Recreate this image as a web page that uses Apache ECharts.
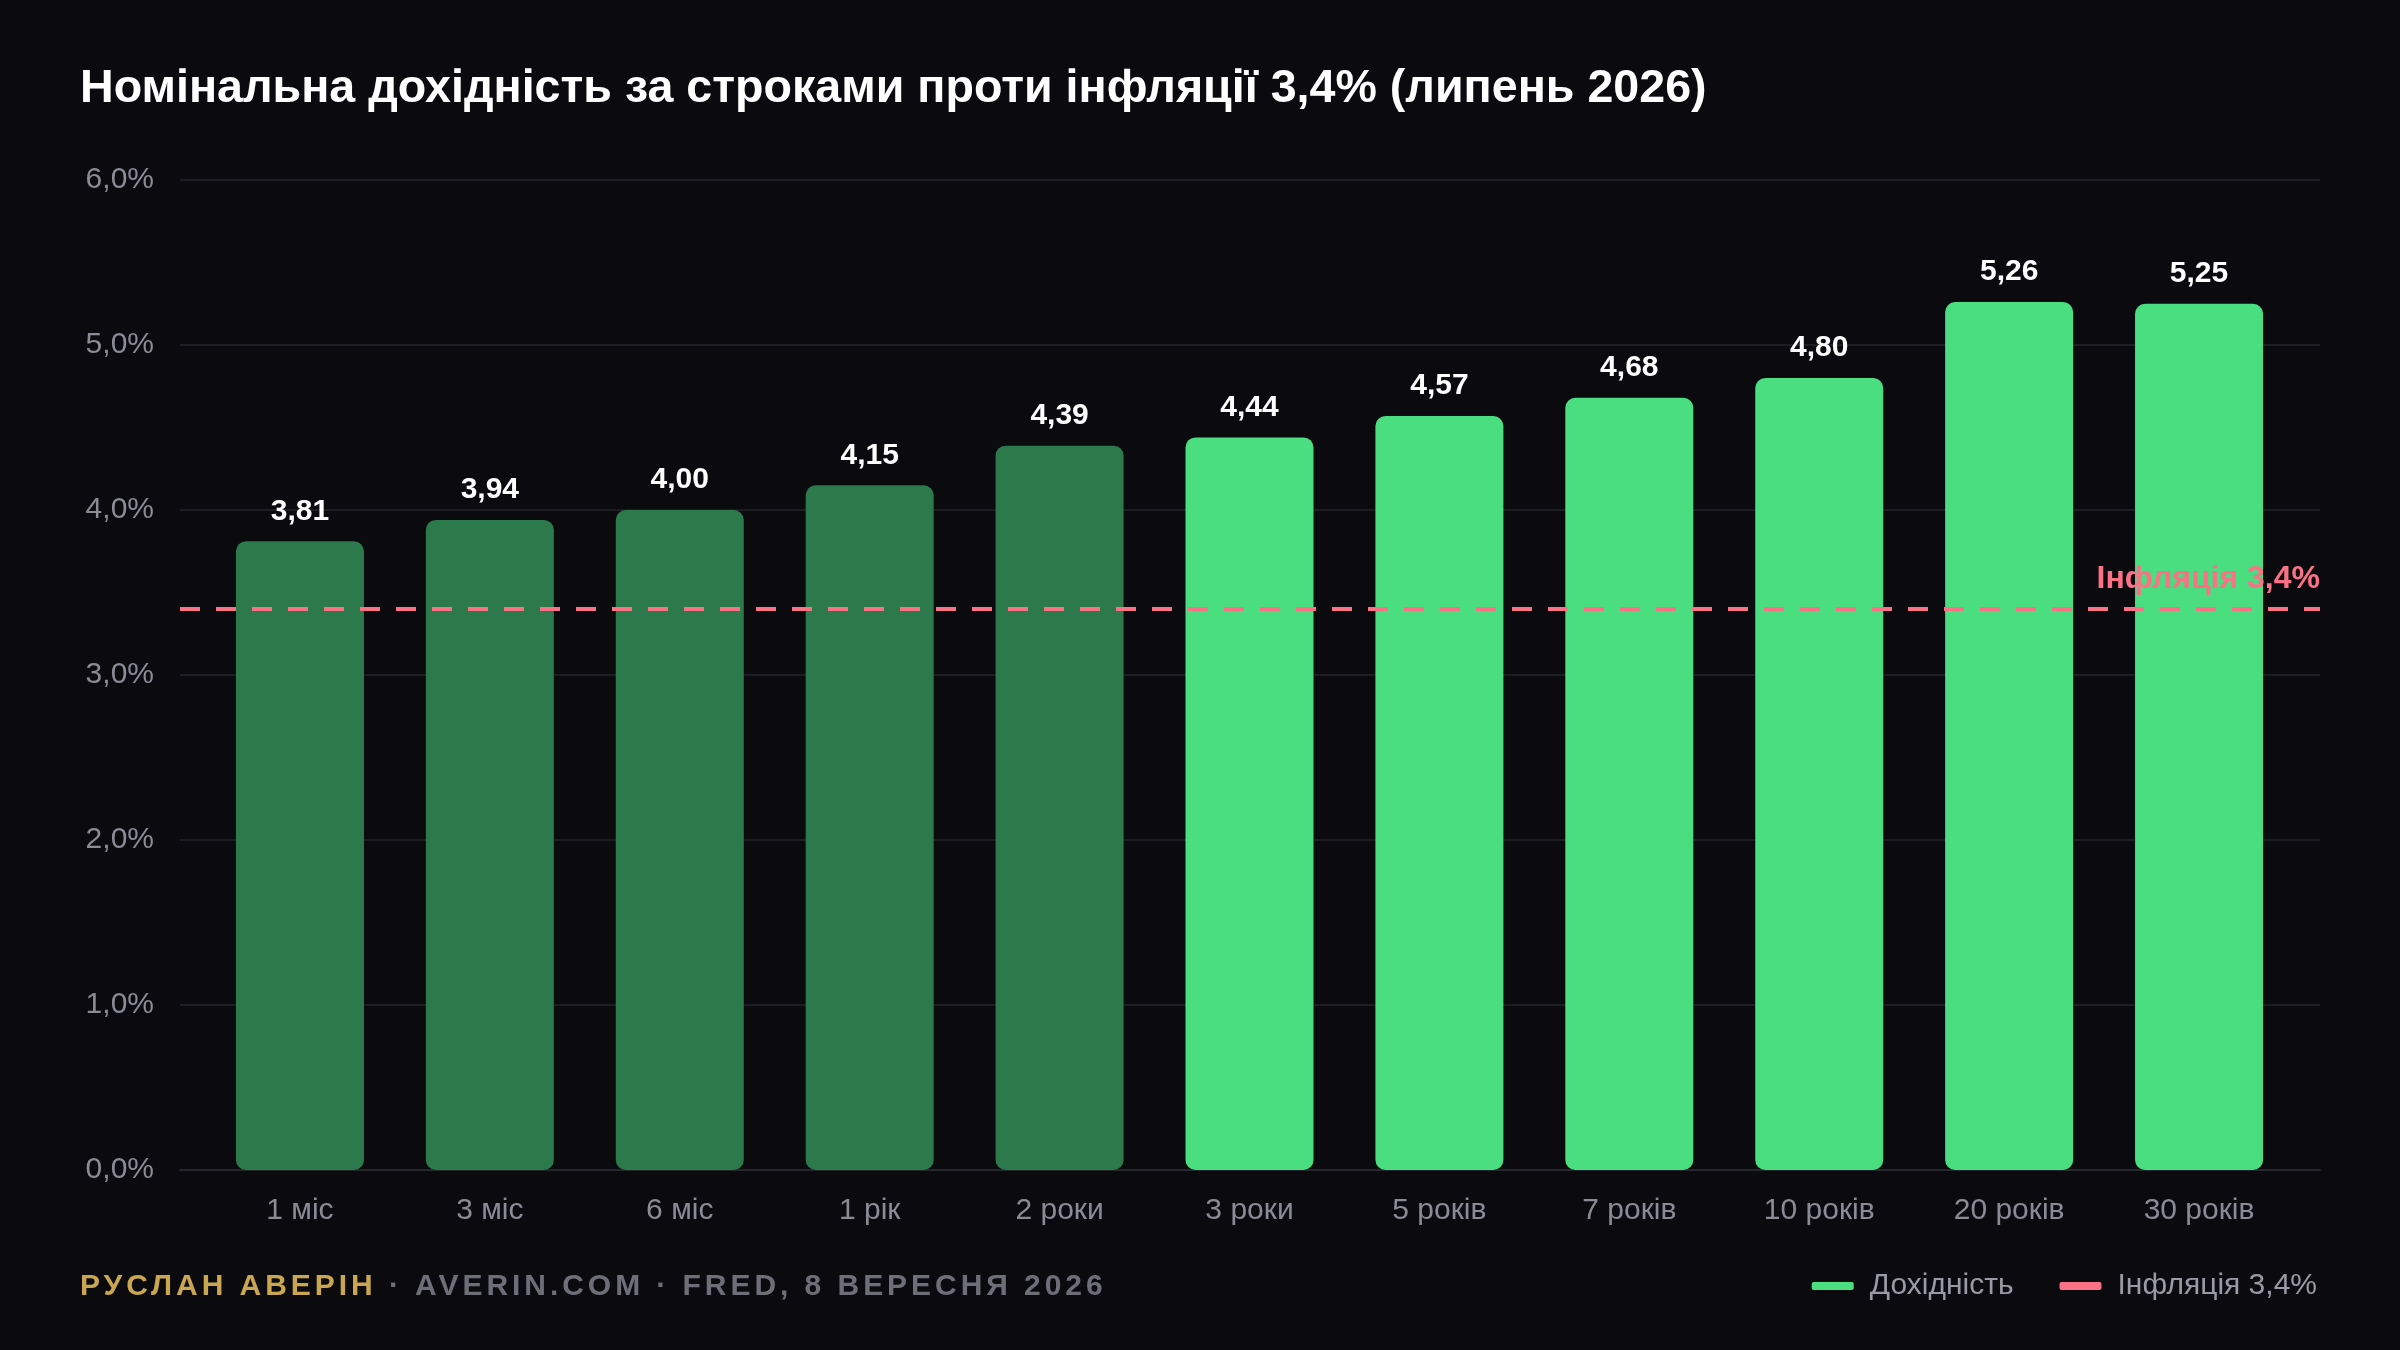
<!DOCTYPE html>
<html lang="uk">
<head>
    <meta charset="UTF-8">
    <title>Дохідність за строками</title>
    <script src="https://cdn.jsdelivr.net/npm/echarts@6/dist/echarts.min.js"></script>
    <style>
        html, body { margin: 0; padding: 0; background: #0a0a0f; }
        #chart { width: 2400px; height: 1350px; }
        .footer {
            position: absolute; left: 80px; top: 1270px;
            font: bold 30px "Liberation Sans", Arial, sans-serif;
            line-height: 30px; letter-spacing: 3.95px; color: #6e6e78;
            white-space: nowrap;
        }
        .footer .name { color: #c9a64f; }
    </style>
</head>
<body>
<div id="chart"></div>
<div class="footer"><span class="name">РУСЛАН АВЕРІН</span> · AVERIN.COM · FRED, 8 ВЕРЕСНЯ 2026</div>

<script>
    // дані
    const categories = ['1 міс', '3 міс', '6 міс', '1 рік', '2 роки', '3 роки', '5 років', '7 років', '10 років', '20 років', '30 років'];
    const yields = [3.81, 3.94, 4.00, 4.15, 4.39, 4.44, 4.57, 4.68, 4.80, 5.26, 5.25];
    const shortTenors = ['1 міс', '3 міс', '6 міс', '1 рік', '2 роки'];
    const inflation = 3.4;
    const yTicks = [0, 1, 2, 3, 4, 5, 6];

    const GREEN = '#4ade80';
    const DARK_GREEN = '#2c7a4c';
    const PINK = '#fb7185';
    const FONT = '"Liberation Sans", Arial, sans-serif';
    const comma = (v, d) => v.toFixed(d).replace('.', ',');
    const inflationName = 'Інфляція ' + comma(inflation, 1) + '%';

    let chart = echarts.init(document.getElementById('chart'));
    let option = {
        backgroundColor: '#0a0a0f',
        animation: false,
        textStyle: {fontFamily: FONT},
        title: {
            text: 'Номінальна дохідність за строками проти інфляції ' + comma(inflation, 1) + '% (липень 2026)',
            left: 75,
            top: 61,
            textStyle: {color: '#ffffff', fontSize: 46.6, fontWeight: 'bold', fontFamily: FONT}
        },
        legend: {
            right: 78,
            top: 1266,
            icon: 'roundRect',
            itemWidth: 42,
            itemHeight: 8,
            itemGap: 46,
            textStyle: {color: '#9a9aa4', fontSize: 30, padding: [0, 0, 0, 11]},
            data: ['Дохідність', inflationName]
        },
        grid: [
            // широка сітка: лінії, вісь Y, лінія інфляції
            {left: 180, right: 80, top: 180, bottom: 180},
            // стовпчики
            {left: 205, right: 106, top: 180, bottom: 180}
        ],
        xAxis: [
            {
                gridIndex: 0, type: 'value', min: 0, max: 1,
                axisLine: {show: true, lineStyle: {color: '#26262d', width: 2}},
                axisTick: {show: false}, axisLabel: {show: false}, splitLine: {show: false}
            },
            {
                gridIndex: 1, type: 'category', data: categories,
                axisLine: {show: false}, axisTick: {show: false},
                axisLabel: {color: '#8b8b95', fontSize: 30, margin: 26}
            }
        ],
        yAxis: [
            {
                gridIndex: 0, type: 'value', min: yTicks[0], max: yTicks[yTicks.length - 1], interval: 1,
                axisLine: {show: false}, axisTick: {show: false},
                axisLabel: {color: '#8b8b95', fontSize: 30, margin: 26, formatter: v => comma(v, 1) + '%'},
                splitLine: {lineStyle: {color: '#1d1d24', width: 2}}
            },
            {
                gridIndex: 1, type: 'value', min: yTicks[0], max: yTicks[yTicks.length - 1], interval: 1,
                show: false, splitLine: {show: false}
            }
        ],
        series: [
            {
                name: 'Дохідність',
                type: 'bar',
                xAxisIndex: 1,
                yAxisIndex: 1,
                barCategoryGap: '32.6%',
                itemStyle: {color: GREEN, borderRadius: 10},
                data: yields.map((v, i) => ({
                    value: v,
                    itemStyle: {color: shortTenors.includes(categories[i]) ? DARK_GREEN : GREEN}
                })),
                label: {
                    show: true,
                    position: 'top',
                    distance: 15,
                    color: '#ffffff',
                    fontSize: 30,
                    fontWeight: 'bold',
                    formatter: p => comma(p.value, 2)
                }
            },
            {
                // лінія інфляції на всю ширину сітки
                name: inflationName,
                type: 'line',
                xAxisIndex: 0,
                yAxisIndex: 0,
                color: PINK,
                symbol: 'circle',
                symbolSize: 0,
                showSymbol: true,
                silent: true,
                z: 5,
                lineStyle: {color: PINK, width: 4, type: [20, 16]},
                data: [
                    [0, inflation],
                    {
                        value: [1, inflation],
                        label: {
                            show: true,
                            position: 'top',
                            align: 'right',
                            distance: 14,
                            color: PINK,
                            fontSize: 32,
                            fontWeight: 'bold',
                            formatter: inflationName
                        }
                    }
                ]
            }
        ]
    };
    chart.setOption(option);
</script>
</body>
</html>
